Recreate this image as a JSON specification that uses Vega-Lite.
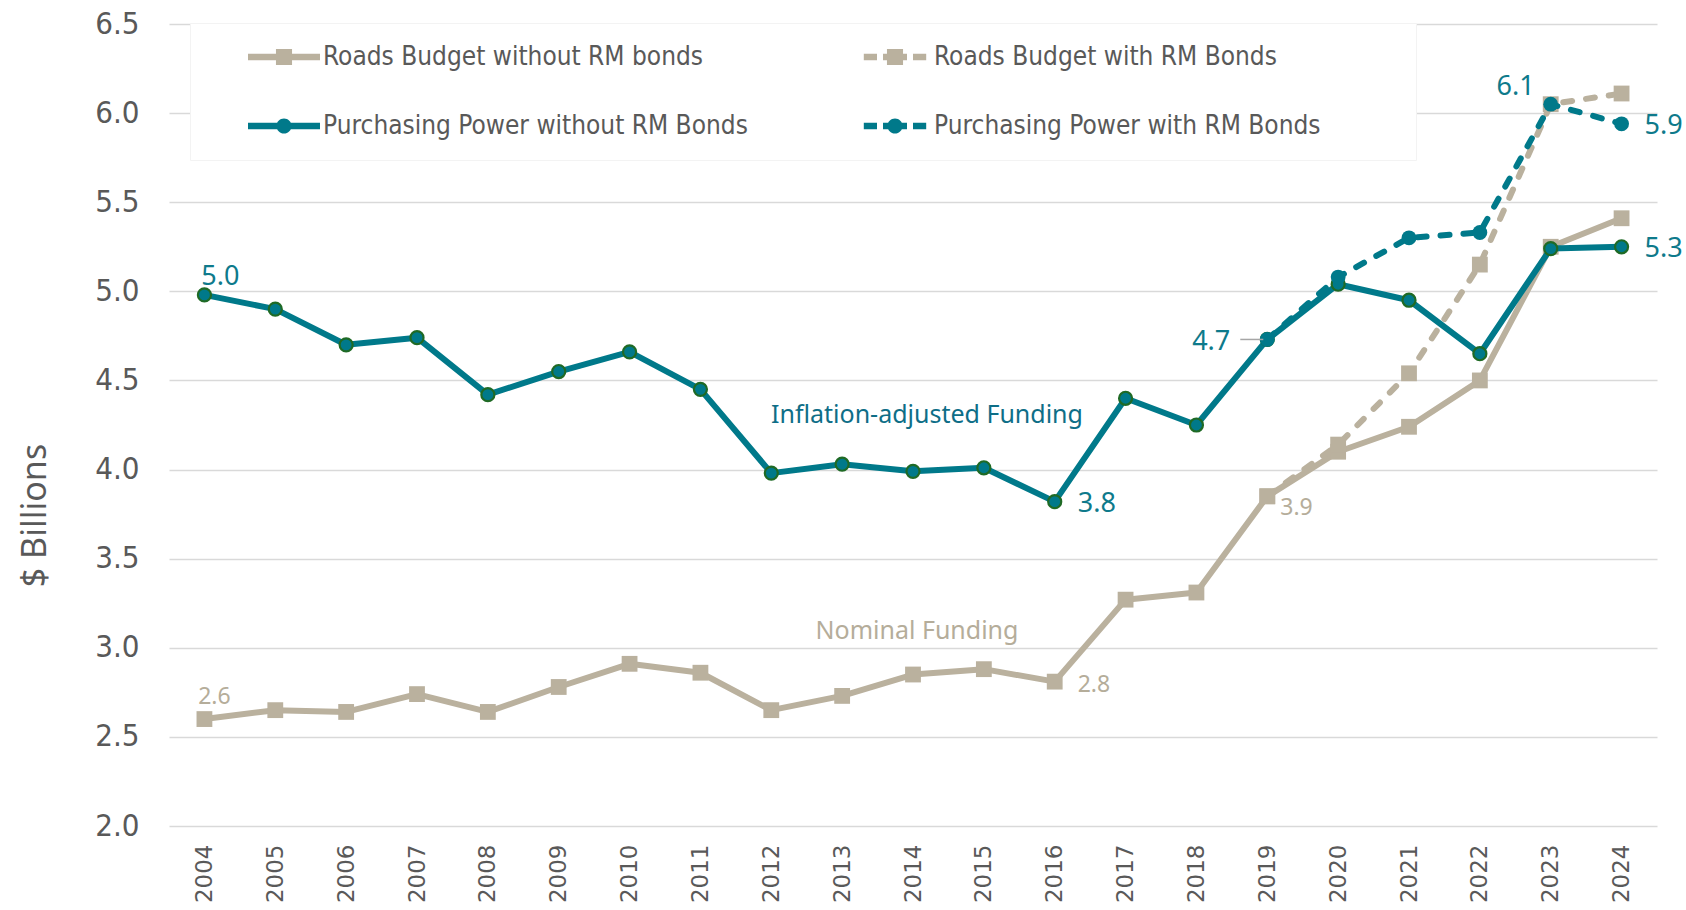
{
  "$schema": "https://vega.github.io/schema/vega-lite/v6.json",
  "width": 1488,
  "height": 802,
  "autosize": {"type": "none"},
  "padding": {"left": 169, "top": 24, "right": 29, "bottom": 84},
  "background": "white",
  "config": {"view": {"stroke": null}},
  "datasets": {
    "lines": [
      {"year": "2004", "series": "Roads Budget without RM bonds", "value": 2.60},
      {"year": "2005", "series": "Roads Budget without RM bonds", "value": 2.65},
      {"year": "2006", "series": "Roads Budget without RM bonds", "value": 2.64},
      {"year": "2007", "series": "Roads Budget without RM bonds", "value": 2.74},
      {"year": "2008", "series": "Roads Budget without RM bonds", "value": 2.64},
      {"year": "2009", "series": "Roads Budget without RM bonds", "value": 2.78},
      {"year": "2010", "series": "Roads Budget without RM bonds", "value": 2.91},
      {"year": "2011", "series": "Roads Budget without RM bonds", "value": 2.86},
      {"year": "2012", "series": "Roads Budget without RM bonds", "value": 2.65},
      {"year": "2013", "series": "Roads Budget without RM bonds", "value": 2.73},
      {"year": "2014", "series": "Roads Budget without RM bonds", "value": 2.85},
      {"year": "2015", "series": "Roads Budget without RM bonds", "value": 2.88},
      {"year": "2016", "series": "Roads Budget without RM bonds", "value": 2.81},
      {"year": "2017", "series": "Roads Budget without RM bonds", "value": 3.27},
      {"year": "2018", "series": "Roads Budget without RM bonds", "value": 3.31},
      {"year": "2019", "series": "Roads Budget without RM bonds", "value": 3.85},
      {"year": "2020", "series": "Roads Budget without RM bonds", "value": 4.10},
      {"year": "2021", "series": "Roads Budget without RM bonds", "value": 4.24},
      {"year": "2022", "series": "Roads Budget without RM bonds", "value": 4.50},
      {"year": "2023", "series": "Roads Budget without RM bonds", "value": 5.25},
      {"year": "2024", "series": "Roads Budget without RM bonds", "value": 5.41},
      {"year": "2019", "series": "Roads Budget with RM Bonds", "value": 3.85},
      {"year": "2020", "series": "Roads Budget with RM Bonds", "value": 4.14},
      {"year": "2021", "series": "Roads Budget with RM Bonds", "value": 4.54},
      {"year": "2022", "series": "Roads Budget with RM Bonds", "value": 5.15},
      {"year": "2023", "series": "Roads Budget with RM Bonds", "value": 6.05},
      {"year": "2024", "series": "Roads Budget with RM Bonds", "value": 6.11},
      {"year": "2004", "series": "Purchasing Power without RM Bonds", "value": 4.98},
      {"year": "2005", "series": "Purchasing Power without RM Bonds", "value": 4.90},
      {"year": "2006", "series": "Purchasing Power without RM Bonds", "value": 4.70},
      {"year": "2007", "series": "Purchasing Power without RM Bonds", "value": 4.74},
      {"year": "2008", "series": "Purchasing Power without RM Bonds", "value": 4.42},
      {"year": "2009", "series": "Purchasing Power without RM Bonds", "value": 4.55},
      {"year": "2010", "series": "Purchasing Power without RM Bonds", "value": 4.66},
      {"year": "2011", "series": "Purchasing Power without RM Bonds", "value": 4.45},
      {"year": "2012", "series": "Purchasing Power without RM Bonds", "value": 3.98},
      {"year": "2013", "series": "Purchasing Power without RM Bonds", "value": 4.03},
      {"year": "2014", "series": "Purchasing Power without RM Bonds", "value": 3.99},
      {"year": "2015", "series": "Purchasing Power without RM Bonds", "value": 4.01},
      {"year": "2016", "series": "Purchasing Power without RM Bonds", "value": 3.82},
      {"year": "2017", "series": "Purchasing Power without RM Bonds", "value": 4.40},
      {"year": "2018", "series": "Purchasing Power without RM Bonds", "value": 4.25},
      {"year": "2019", "series": "Purchasing Power without RM Bonds", "value": 4.73},
      {"year": "2020", "series": "Purchasing Power without RM Bonds", "value": 5.04},
      {"year": "2021", "series": "Purchasing Power without RM Bonds", "value": 4.95},
      {"year": "2022", "series": "Purchasing Power without RM Bonds", "value": 4.65},
      {"year": "2023", "series": "Purchasing Power without RM Bonds", "value": 5.24},
      {"year": "2024", "series": "Purchasing Power without RM Bonds", "value": 5.25},
      {"year": "2019", "series": "Purchasing Power with RM Bonds", "value": 4.73},
      {"year": "2020", "series": "Purchasing Power with RM Bonds", "value": 5.08},
      {"year": "2021", "series": "Purchasing Power with RM Bonds", "value": 5.30},
      {"year": "2022", "series": "Purchasing Power with RM Bonds", "value": 5.33},
      {"year": "2023", "series": "Purchasing Power with RM Bonds", "value": 6.05},
      {"year": "2024", "series": "Purchasing Power with RM Bonds", "value": 5.94}
    ],
    "labels": [
      {"year": "2004", "value": 4.98, "text": "5.0"},
      {"year": "2016", "value": 3.82, "text": "3.8"},
      {"year": "2019", "value": 4.73, "text": "4.7"},
      {"year": "2023", "value": 6.05, "text": "6.1"},
      {"year": "2024", "value": 5.94, "text": "5.9"},
      {"year": "2024", "value": 5.25, "text": "5.3"},
      {"year": "2004", "value": 2.60, "text": "2.6"},
      {"year": "2016", "value": 2.81, "text": "2.8"},
      {"year": "2019", "value": 3.85, "text": "3.9"}
    ],
    "notes": [
      {"year": "2014", "value": 4.264, "text": "Inflation-adjusted Funding"},
      {"year": "2014", "value": 3.051, "text": "Nominal Funding"}
    ]
  },
  "encoding": {
    "x": {
      "field": "year", "type": "ordinal",
      "scale": {"type": "point", "padding": 0.5},
      "axis": {"labelAngle": -90, "labelFont": "DejaVu Sans", "labelFontSize": 23, "labelColor": "#595959", "labelPadding": 18, "ticks": false, "domain": false, "grid": false, "title": null}
    },
    "y": {
      "field": "value", "type": "quantitative",
      "scale": {"domain": [2, 6.5], "nice": false, "zero": false},
      "axis": {
        "values": [2, 2.5, 3, 3.5, 4, 4.5, 5, 5.5, 6, 6.5], "format": ".1f",
        "grid": true, "gridColor": "#D9D9D9", "gridWidth": 1.5, "domain": false, "ticks": false,
        "labelPadding": 30, "labelFont": "DejaVu Sans Condensed", "labelFontSize": 31, "labelColor": "#595959",
        "title": "$ Billions", "titleFont": "Noto Sans", "titleFontSize": 34, "titleFontWeight": "normal", "titleColor": "#595959",
        "titleAngle": -90, "titleX": -134, "titleY": 491, "titleAlign": "center", "titleBaseline": "middle"
      }
    }
  },
  "layer": [
    {
      "data": {"name": "lines"},
      "transform": [{"filter": "datum.series === 'Roads Budget without RM bonds'"}],
      "mark": {"type": "line", "strokeWidth": 6, "strokeCap": "round", "strokeJoin": "round"},
      "encoding": {
        "color": {
          "field": "series", "type": "nominal",
          "scale": {
            "domain": ["Roads Budget without RM bonds", "Roads Budget with RM Bonds", "Purchasing Power without RM Bonds", "Purchasing Power with RM Bonds"],
            "range": ["#BAB19E", "#BAB19E", "#00798A", "#00798A"]
          },
          "legend": {
            "title": null, "orient": "none", "legendX": 21, "legendY": -1, "columns": 2, "direction": "horizontal",
            "padding": 21, "fillColor": "white", "strokeColor": "#F3F3F3",
            "labelFont": "DejaVu Sans Condensed", "labelFontSize": 26, "labelColor": "#595959", "labelLimit": 1000,
            "labelExpr": "indexof(datum.label, 'with RM') >= 0 ? datum.label + '          \u200b' : datum.label",
            "symbolSize": 576, "symbolOffset": 60, "labelOffset": 26, "rowPadding": 43, "columnPadding": 74,
            "encode": {
              "symbols": {
                "update": {
                  "shape": {"signal": "datum.value === 'Roads Budget without RM bonds' ? 'M-3,-0.28H3V0.28H-3Z M-0.67,-0.67H0.67V0.67H-0.67Z' : datum.value === 'Roads Budget with RM Bonds' ? 'M-2.6,-0.28H-1.5V0.28H-2.6Z M-1.0,-0.28H1.0V0.28H-1.0Z M-0.67,-0.67H0.67V0.67H-0.67Z M1.5,-0.28H2.6V0.28H1.5Z' : datum.value === 'Purchasing Power without RM Bonds' ? 'M-3,-0.28H3V0.28H-3Z M-0.63,0A0.63,0.63 0 1,1 0.63,0A0.63,0.63 0 1,1 -0.63,0Z' : 'M-2.6,-0.28H-1.5V0.28H-2.6Z M-1.0,-0.28H1.0V0.28H-1.0Z M-0.63,0A0.63,0.63 0 1,1 0.63,0A0.63,0.63 0 1,1 -0.63,0Z M1.5,-0.28H2.6V0.28H1.5Z'"},
                  "fill": {"signal": "indexof(datum.value, 'Roads') === 0 ? '#BAB19E' : '#00798A'"},
                  "stroke": {"value": "transparent"},
                  "strokeWidth": {"value": 0},
                  "strokeDash": {"value": []},
                  "opacity": {"value": 1}
                }
              }
            }
          }
        }
      }
    },
    {
      "data": {"name": "lines"},
      "transform": [{"filter": "datum.series === 'Roads Budget without RM bonds'"}],
      "mark": {"type": "point", "shape": "square", "filled": true, "size": 250, "color": "#BAB19E", "opacity": 1}
    },
    {
      "data": {"name": "lines"},
      "transform": [{"filter": "datum.series === 'Roads Budget with RM Bonds'"}],
      "mark": {"type": "line", "strokeWidth": 6, "strokeCap": "round", "strokeJoin": "round", "strokeDash": [9, 14], "color": "#BAB19E"}
    },
    {
      "data": {"name": "lines"},
      "transform": [{"filter": "datum.series === 'Roads Budget with RM Bonds'"}],
      "mark": {"type": "point", "shape": "square", "filled": true, "size": 250, "color": "#BAB19E", "opacity": 1}
    },
    {
      "data": {"name": "lines"},
      "transform": [{"filter": "datum.series === 'Purchasing Power without RM Bonds'"}],
      "mark": {"type": "line", "strokeWidth": 6, "strokeCap": "round", "strokeJoin": "round", "color": "#00798A"}
    },
    {
      "data": {"name": "lines"},
      "transform": [{"filter": "datum.series === 'Purchasing Power without RM Bonds'"}],
      "mark": {"type": "point", "shape": "circle", "filled": true, "size": 170, "fill": "#00798A", "stroke": "#1F6A25", "strokeWidth": 2.2, "opacity": 1}
    },
    {
      "data": {"name": "lines"},
      "transform": [{"filter": "datum.series === 'Purchasing Power with RM Bonds'"}],
      "mark": {"type": "line", "strokeWidth": 6, "strokeCap": "round", "strokeJoin": "round", "strokeDash": [9, 14], "color": "#00798A"}
    },
    {
      "data": {"name": "lines"},
      "transform": [{"filter": "datum.series === 'Purchasing Power with RM Bonds'"}],
      "mark": {"type": "point", "shape": "circle", "filled": true, "size": 220, "color": "#00798A", "opacity": 1}
    },
    {
      "data": {"name": "labels"},
      "transform": [{"filter": "datum.text === '4.7'"}],
      "mark": {"type": "rule", "color": "#A6A6A6", "strokeWidth": 1.5, "xOffset": -27, "x2Offset": -4},
      "encoding": {"x2": {"field": "year"}}
    },
    {
      "data": {"name": "labels"},
      "transform": [{"filter": "datum.text === '5.0'"}],
      "mark": {"type": "text", "font": "Noto Sans", "fontSize": 27, "color": "#0E7A8B", "align": "center", "baseline": "alphabetic", "dx": 16, "dy": -10},
      "encoding": {"text": {"field": "text"}}
    },
    {
      "data": {"name": "labels"},
      "transform": [{"filter": "datum.text === '3.8' || datum.text === '5.3' || datum.text === '5.9'"}],
      "mark": {"type": "text", "font": "Noto Sans", "fontSize": 27, "color": "#0E7A8B", "align": "left", "baseline": "middle", "dx": 23, "dy": 2},
      "encoding": {"text": {"field": "text"}}
    },
    {
      "data": {"name": "labels"},
      "transform": [{"filter": "datum.text === '4.7'"}],
      "mark": {"type": "text", "font": "Noto Sans", "fontSize": 27, "color": "#0E7A8B", "align": "right", "baseline": "middle", "dx": -37, "dy": 3},
      "encoding": {"text": {"field": "text"}}
    },
    {
      "data": {"name": "labels"},
      "transform": [{"filter": "datum.text === '6.1'"}],
      "mark": {"type": "text", "font": "Noto Sans", "fontSize": 27, "color": "#0E7A8B", "align": "right", "baseline": "middle", "dx": -16, "dy": -17},
      "encoding": {"text": {"field": "text"}}
    },
    {
      "data": {"name": "labels"},
      "transform": [{"filter": "datum.text === '2.6'"}],
      "mark": {"type": "text", "font": "Noto Sans", "fontSize": 23, "color": "#B5AD9A", "align": "center", "baseline": "middle", "dx": 10, "dy": -22},
      "encoding": {"text": {"field": "text"}}
    },
    {
      "data": {"name": "labels"},
      "transform": [{"filter": "datum.text === '2.8'"}],
      "mark": {"type": "text", "font": "Noto Sans", "fontSize": 23, "color": "#B5AD9A", "align": "left", "baseline": "middle", "dx": 23, "dy": 3},
      "encoding": {"text": {"field": "text"}}
    },
    {
      "data": {"name": "labels"},
      "transform": [{"filter": "datum.text === '3.9'"}],
      "mark": {"type": "text", "font": "Noto Sans", "fontSize": 23, "color": "#B5AD9A", "align": "left", "baseline": "middle", "dx": 13, "dy": 12},
      "encoding": {"text": {"field": "text"}}
    },
    {
      "data": {"name": "notes"},
      "transform": [{"filter": "datum.text === 'Inflation-adjusted Funding'"}],
      "mark": {"type": "text", "font": "Noto Sans", "fontSize": 25, "color": "#0E6E87", "align": "center", "baseline": "alphabetic", "dx": 14},
      "encoding": {"text": {"field": "text"}}
    },
    {
      "data": {"name": "notes"},
      "transform": [{"filter": "datum.text === 'Nominal Funding'"}],
      "mark": {"type": "text", "font": "Noto Sans", "fontSize": 25, "color": "#B5AD9A", "align": "center", "baseline": "alphabetic", "dx": 4},
      "encoding": {"text": {"field": "text"}}
    }
  ]
}
